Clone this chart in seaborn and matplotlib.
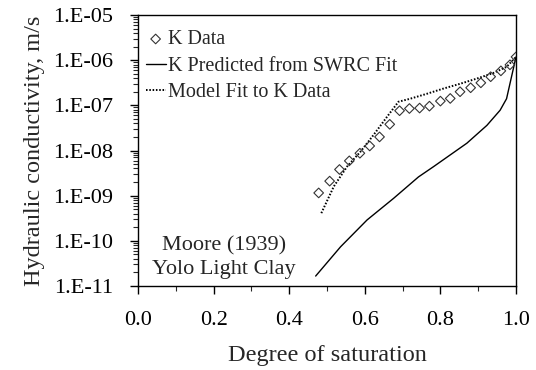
import numpy as np
import pandas as pd
import matplotlib
matplotlib.use("Agg")
import matplotlib.pyplot as plt
import matplotlib.ticker as mticker
import seaborn as sns

# K data (diamonds)
data_s = [0.478, 0.507, 0.533, 0.559, 0.587, 0.613, 0.639, 0.666, 0.692, 0.718, 0.745,
          0.771, 0.800, 0.826, 0.852, 0.880, 0.907, 0.933, 0.960, 0.984, 1.0]
data_k = [1.15e-9, 2.1e-9, 3.8e-9, 5.9e-9, 8.7e-9, 1.26e-8, 2.0e-8, 3.8e-8, 7.6e-8, 8.5e-8, 8.7e-8,
          9.6e-8, 1.24e-7, 1.42e-7, 2.0e-7, 2.45e-7, 3.15e-7, 4.3e-7, 5.8e-7, 7.9e-7, 1.18e-6]

# K predicted from SWRC fit (solid)
swrc_s = [0.470, 0.536, 0.606, 0.676, 0.742, 0.782, 0.870, 0.923, 0.958, 0.975, 1.0]
swrc_k = [1.66e-11, 7.4e-11, 2.9e-10, 8.7e-10, 2.6e-9, 4.4e-9, 1.45e-8, 3.6e-8, 7.8e-8, 1.4e-7, 1.18e-6]

# Model fit to K data (dotted)
fit_s = [0.485, 0.518, 0.553, 0.588, 0.623, 0.659, 0.689, 0.720, 0.764, 0.808, 0.852, 0.896, 0.940, 0.975, 1.0]
fit_k = [4.1e-10, 1.6e-9, 4.4e-9, 9.3e-9, 2.2e-8, 5.6e-8, 1.2e-7, 1.4e-7, 1.8e-7, 2.35e-7, 3.0e-7,
         3.9e-7, 5.2e-7, 7.1e-7, 1.18e-6]

x_ticks = [0.0, 0.2, 0.4, 0.6, 0.8, 1.0]
y_ticks = [1e-11, 1e-10, 1e-9, 1e-8, 1e-7, 1e-6, 1e-5]

sns.set_style("white")
plt.rcParams['font.family'] = ['Liberation Serif', 'DejaVu Serif']
FS_TICK = 16
FS_LAB = 17.5
FS_LEG = 14.5
FS_ANN = 16

fig = plt.figure(figsize=(5.36, 3.70), dpi=100)
ax = fig.add_axes([138/536, 1 - 286/370, (516-138)/536, (286-15)/370])

df_data = pd.DataFrame({"s": data_s, "k": data_k})
df_swrc = pd.DataFrame({"s": swrc_s, "k": swrc_k})
df_fit = pd.DataFrame({"s": fit_s, "k": fit_k})

sns.scatterplot(data=df_data, x="s", y="k", ax=ax, marker="D", s=24,
                facecolor="none", edgecolor="#333333", linewidth=0.8,
                label="K Data", zorder=3)
sns.lineplot(data=df_swrc, x="s", y="k", ax=ax, color="black", linewidth=1.0,
             label="K Predicted from SWRC Fit", sort=False)
sns.lineplot(data=df_fit, x="s", y="k", ax=ax, color="black", linewidth=1.4,
             label="Model Fit to K Data", sort=False)
ax.lines[-1].set_linestyle((0, (0.8, 0.9)))

ax.set_yscale("log")
ax.set_xlim(0, 1.0)
ax.set_ylim(1e-11, 1e-5)
ax.set_xticks(x_ticks)
ax.set_xticklabels([f"{v:.1f}" for v in x_ticks], fontsize=FS_TICK)
ax.xaxis.set_minor_locator(mticker.MultipleLocator(0.1))
ax.set_yticks(y_ticks)
ax.set_yticklabels([f"1.E-{int(round(-np.log10(v))):02d}" for v in y_ticks], fontsize=FS_TICK)
ax.yaxis.set_minor_locator(mticker.LogLocator(base=10, subs=np.arange(2, 10)))
ax.yaxis.set_minor_formatter(mticker.NullFormatter())

ax.tick_params(axis="both", which="major", direction="out", length=6, width=1.0,
               bottom=True, left=True, top=False, right=False, colors="black")
ax.tick_params(axis="both", which="minor", direction="out", length=3.5, width=0.8,
               bottom=True, left=True, top=False, right=False)
ax.tick_params(axis="x", which="major", pad=12)
ax.tick_params(axis="y", which="major", pad=12)

for sp in ax.spines.values():
    sp.set_visible(True)
    sp.set_color("black")
    sp.set_linewidth(1.0)

ax.set_xlabel("Degree of saturation", fontsize=FS_LAB, labelpad=11)
ax.set_ylabel("Hydraulic conductivity, m/s", fontsize=FS_LAB, labelpad=6)

leg = ax.legend(loc="upper left", frameon=False, fontsize=FS_LEG, handlelength=1.0,
                handletextpad=0.1, labelspacing=0.37, borderaxespad=0.0, borderpad=0.0,
                bbox_to_anchor=(0.02, 0.944))

ax.text(0.2275, 0.104, "Moore (1939)\nYolo Light Clay", transform=ax.transAxes,
        ha="center", va="center", fontsize=FS_ANN, linespacing=1.3)

fig.savefig("out.png", dpi=100)
